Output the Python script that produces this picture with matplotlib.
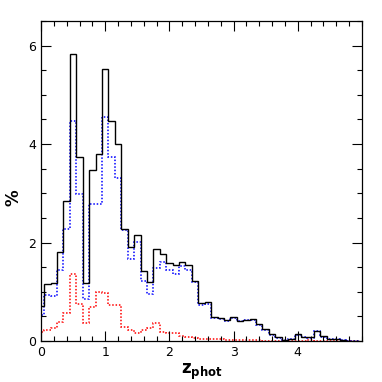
import numpy as np
import matplotlib
matplotlib.use("Agg")
import matplotlib.pyplot as plt
from matplotlib.ticker import MultipleLocator

# bin centres 0.0 .. 4.9 (width 0.1)
bin_centers = [round(0.1 * i, 1) for i in range(50)]

all_sample = [0.71, 1.16, 1.18, 1.80, 2.85, 5.82, 3.74, 1.18, 3.47, 3.79,
              5.52, 4.47, 4.01, 2.28, 1.90, 2.16, 1.43, 1.20, 1.87, 1.77,
              1.58, 1.54, 1.60, 1.55, 1.21, 0.78, 0.80, 0.49, 0.47, 0.42,
              0.49, 0.41, 0.43, 0.44, 0.34, 0.24, 0.14, 0.08, 0.02, 0.05,
              0.14, 0.09, 0.08, 0.21, 0.10, 0.05, 0.05, 0.02, 0.01, 0.01]

blue_sample = [0.52, 0.94, 0.91, 1.45, 2.28, 4.47, 2.98, 0.85, 2.79, 2.79,
               4.55, 3.74, 3.31, 2.25, 1.66, 2.01, 1.22, 0.95, 1.49, 1.60,
               1.44, 1.37, 1.52, 1.44, 1.20, 0.74, 0.75, 0.46, 0.44, 0.41,
               0.47, 0.40, 0.42, 0.43, 0.33, 0.23, 0.13, 0.07, 0.02, 0.04,
               0.13, 0.08, 0.07, 0.20, 0.09, 0.04, 0.04, 0.02, 0.01, 0.01]

red_sample = [0.19, 0.22, 0.26, 0.39, 0.57, 1.36, 0.76, 0.36, 0.70, 1.00,
              0.98, 0.73, 0.73, 0.29, 0.22, 0.17, 0.22, 0.26, 0.37, 0.18,
              0.16, 0.17, 0.10, 0.09, 0.07, 0.05, 0.05, 0.04, 0.05, 0.03,
              0.03, 0.02, 0.02, 0.02, 0.02, 0.01, 0.01, 0.01, 0.01, 0.01,
              0.01, 0.01, 0.02, 0.01, 0.01, 0.01, 0.00, 0.00, 0.00, 0.00]

x_ticks = [0, 1, 2, 3, 4]
y_ticks = [0, 2, 4, 6]

bw = 0.1
edges = np.concatenate([np.array(bin_centers) - bw / 2, [bin_centers[-1] + bw / 2]])

fig = plt.figure(figsize=(3.82, 3.82), dpi=100)
ax = fig.add_axes([41 / 382, 41 / 382, 321 / 382, 320 / 382])

ax.stairs(red_sample, edges, color="red", linestyle=(0, (1, 1.2)), linewidth=1.1, baseline=None)
ax.stairs(blue_sample, edges, color="blue", linestyle=(0, (1, 1.2)), linewidth=1.1, baseline=None)
ax.stairs(all_sample, edges, color="black", linestyle="-", linewidth=1.0, baseline=None)

ax.set_xlim(0, 5.0)
ax.set_ylim(0, 6.5)
ax.set_xticks(x_ticks)
ax.set_yticks(y_ticks)
ax.xaxis.set_minor_locator(MultipleLocator(0.2))
ax.yaxis.set_minor_locator(MultipleLocator(0.5))
ax.tick_params(which="both", direction="in", top=True, right=True, labelsize=9)
ax.tick_params(which="major", length=7, width=0.8)
ax.tick_params(which="minor", length=3.5, width=0.8)
for s in ax.spines.values():
    s.set_linewidth(0.9)

ax.set_xlabel(r"$\mathbf{z_{phot}}$", fontsize=12, labelpad=2)
ax.set_ylabel("%", fontsize=12, fontweight="bold", va="center")
ax.yaxis.set_label_coords(-0.087, 0.447)

fig.savefig("out.png", dpi=100)
